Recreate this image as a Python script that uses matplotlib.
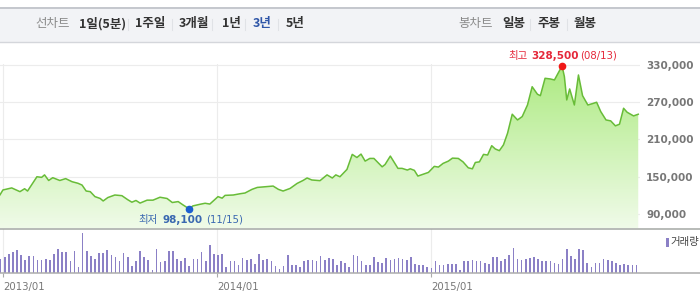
import matplotlib
matplotlib.use("Agg")
import matplotlib.pyplot as plt
import matplotlib.dates as mdates
import numpy as np
import pandas as pd
from matplotlib.colors import LinearSegmentedColormap
from matplotlib.patches import PathPatch, Rectangle
from matplotlib.lines import Line2D

CJK = ['Noto Sans CJK KR', 'DejaVu Sans']
plt.rcParams['font.family'] = CJK

# price line (weekly-ish points)
price_dates = [
    '2012-12-27', '2013-01-01', '2013-01-16', '2013-01-30', '2013-02-07', '2013-02-12', '2013-02-28',
    '2013-03-08', '2013-03-13', '2013-03-20', '2013-03-27', '2013-04-08', '2013-04-18', '2013-04-29',
    '2013-05-09', '2013-05-16', '2013-05-23', '2013-05-30', '2013-06-07', '2013-06-16', '2013-06-21',
    '2013-06-29', '2013-07-11', '2013-07-23', '2013-08-02', '2013-08-09', '2013-08-16', '2013-08-23',
    '2013-09-04', '2013-09-14', '2013-09-26', '2013-10-08', '2013-10-17', '2013-10-27', '2013-11-04',
    '2013-11-15', '2013-11-21', '2013-12-03', '2013-12-12', '2013-12-20', '2013-12-29', '2014-01-03',
    '2014-01-10', '2014-01-15', '2014-01-29', '2014-02-10', '2014-02-18', '2014-03-02', '2014-03-11',
    '2014-04-07', '2014-04-16', '2014-04-24', '2014-05-06', '2014-05-18', '2014-05-28', '2014-06-04',
    '2014-06-12', '2014-06-26', '2014-07-08', '2014-07-17', '2014-07-23', '2014-07-30', '2014-08-11',
    '2014-08-20', '2014-08-28', '2014-09-04', '2014-09-11', '2014-09-19', '2014-09-26', '2014-10-10',
    '2014-10-15', '2014-10-24', '2014-11-06', '2014-11-13', '2014-11-22', '2014-11-27', '2014-12-04',
    '2014-12-10', '2014-12-28', '2015-01-07', '2015-01-14', '2015-01-22', '2015-01-31', '2015-02-07',
    '2015-02-17', '2015-02-25', '2015-03-06', '2015-03-13', '2015-03-18', '2015-03-25', '2015-04-01',
    '2015-04-08', '2015-04-15', '2015-04-21', '2015-04-28', '2015-05-05', '2015-05-12', '2015-05-20',
    '2015-05-29', '2015-06-06', '2015-06-15', '2015-06-23', '2015-07-02', '2015-07-07', '2015-07-15',
    '2015-07-24', '2015-07-31', '2015-08-13', '2015-08-17', '2015-08-21', '2015-08-26', '2015-09-03',
    '2015-09-10', '2015-09-17', '2015-09-26', '2015-10-04', '2015-10-11', '2015-10-18', '2015-10-27',
    '2015-11-04', '2015-11-12', '2015-11-19', '2015-11-26', '2015-12-02', '2015-12-13', '2015-12-21',
]
price = [
    120900, 128700, 132000, 126000, 130700, 127000, 150000, 149000, 153000, 144000, 148500, 144000,
    147000, 142000, 139500, 136600, 127000, 126000, 118000, 115000, 111000, 116500, 120600, 119500,
    113000, 109000, 111800, 107600, 112300, 112300, 117000, 115000, 108500, 110000, 104800, 98100,
    103000, 105600, 107300, 106000, 113700, 118000, 115500, 120000, 120600, 122700, 123800, 129700,
    132800, 135000, 129700, 127000, 131200, 139300, 144000, 148000, 144800, 143700, 153000, 148000,
    153000, 150000, 161800, 186000, 181000, 186500, 175200, 179500, 179500, 166000, 169700, 183300,
    163500, 163500, 160800, 162800, 160300, 151100, 157000, 166700, 165600, 171500, 175200, 180000,
    179500, 174000, 164400, 162800, 173000, 174000, 186000, 185000, 200000, 194800, 192000, 201300,
    220100, 250700, 241500, 246900, 265600, 295000, 282900, 280600, 308600, 307500, 305900, 328500,
    311200, 273700, 291400, 265600, 313900, 280600, 265600, 267800, 270000, 255000, 241500, 240000,
    232000, 234600, 260300, 253900, 248000, 250700,
]

# weekly volume (relative bar heights)
volume = [
    14, 16, 19, 21, 23, 18, 13, 17, 17, 13, 13, 14, 13, 19, 24, 21, 21, 12, 22, 6,
    40, 22, 17, 14, 20, 20, 23, 18, 16, 12, 20, 16, 7, 12, 22, 16, 13, 3, 24, 11,
    12, 22, 22, 14, 12, 15, 7, 14, 14, 21, 12, 28, 19, 18, 19, 6, 12, 12, 8, 15,
    13, 14, 9, 19, 13, 14, 12, 7, 4, 7, 18, 8, 8, 6, 12, 13, 13, 12, 17,
    13, 15, 14, 8, 12, 10, 6,
    18, 17, 12, 8, 8, 16, 11, 10, 15, 13, 14, 15, 14, 13, 16, 9, 8, 8, 6, 5,
    12, 8, 8, 9, 9, 9, 3, 12, 12, 13, 12, 12, 10, 9, 16, 16, 12, 14, 18, 25,
    14, 13, 14, 15, 16, 14, 12, 12, 12, 10, 9, 14, 24, 17, 14, 24, 23, 10, 6, 10,
    10, 14, 13, 12, 10, 8, 9, 8, 8, 8,
]
vol_start = '2012-12-28'

y_ticks = [90000, 150000, 210000, 270000, 330000]
year_ticks = ['2013-01-01', '2014-01-01', '2015-01-01']
year_labels = ['2013/01', '2014/01', '2015/01']

low_date, low_val, low_label = '2013-11-15', 98100, '(11/15)'
high_date, high_val, high_label = '2015-08-13', 328500, '(08/13)'

left_menu = ['선차트', '1일(5분)', '1주일', '3개월', '1년', '3년', '5년']
left_menu_x = [35, 79, 135, 179, 222, 253, 286]
right_menu = ['봉차트', '일봉', '주봉', '월봉']
right_menu_x = [458, 502, 537, 574]

W, H = 700, 305
fig = plt.figure(figsize=(W / 100, H / 100), dpi=100)


def px_rect(x0, y0, x1, y1):
    return [x0 / W, 1 - y1 / H, (x1 - x0) / W, (y1 - y0) / H]


def fy(y):
    return 1 - y / H


# header bar
fig.patches.append(Rectangle((0, fy(42)), 1, 35 / H, transform=fig.transFigure,
                             facecolor='#f2f3f6', edgecolor='none', zorder=0))
fig.add_artist(Line2D([0, 1], [fy(7.5), fy(7.5)], color='#c4c7cd', lw=1.4))
fig.add_artist(Line2D([0, 1], [fy(42), fy(42)], color='#d4d6db', lw=1.0))
for i, (t, x) in enumerate(zip(left_menu, left_menu_x)):
    if i == 0:
        fig.text(x / W, fy(24), t, color='#8a8a8a', fontsize=9, va='center', family=CJK)
    else:
        c = '#2f56a8' if t == '3년' else '#333333'
        fig.text(x / W, fy(24), t, color=c, fontsize=9, weight='bold', va='center', family=CJK)
for i, (t, x) in enumerate(zip(right_menu, right_menu_x)):
    if i == 0:
        fig.text(x / W, fy(24), t, color='#8a8a8a', fontsize=9, va='center', family=CJK)
    else:
        fig.text(x / W, fy(24), t, color='#333333', fontsize=9, weight='bold', va='center', family=CJK)
for sx in [128, 172, 212, 245, 278, 530, 567]:
    fig.add_artist(Line2D([sx / W, sx / W], [fy(19), fy(30)], color='#e0e2e6', lw=0.8))

pdates = pd.to_datetime(price_dates)
x_lo = mdates.date2num(pd.Timestamp('2012-12-27'))
x_hi = mdates.date2num(pd.Timestamp('2015-12-24'))
y_lo, y_hi = 67450, 331600

# price panel
ax = fig.add_axes(px_rect(0, 64, 640, 228))
poly = ax.fill_between(pdates, price, y_lo, color='none')
clip = PathPatch(poly.get_paths()[0], transform=ax.transData, facecolor='none', edgecolor='none')
ax.add_patch(clip)
cmap = LinearSegmentedColormap.from_list('g', ['#f0fbe9', '#acea80'])
grad = np.linspace(0, 1, 256).reshape(-1, 1)
im = ax.imshow(grad, extent=[x_lo, x_hi, y_lo, y_hi], origin='lower', aspect='auto',
               cmap=cmap, zorder=1)
im.set_clip_path(clip)
ax.plot(pdates, price, color='#68bc38', lw=1.1, zorder=3)

ax.set_xlim(x_lo, x_hi)
ax.set_ylim(y_lo, y_hi)
ax.set_yticks(y_ticks)
ax.set_yticklabels([f'{v:,}' for v in y_ticks], family='DejaVu Sans', weight='bold',
                   fontsize=7.5, color='#777777')
ax.yaxis.tick_right()
ax.set_xticks(pd.to_datetime(year_ticks))
ax.set_xticklabels([])
ax.tick_params(length=0, pad=4.5)
ax.grid(True, color='#ececec', lw=0.8, zorder=0)
ax.set_axisbelow(True)
for s in ax.spines.values():
    s.set_visible(False)

# min / max markers
ld = pd.Timestamp(low_date)
hd = pd.Timestamp(high_date)
ax.plot(ld, low_val, 'o', ms=4.5, color='#1b5fd0', zorder=5, clip_on=False)
ax.plot(hd, high_val, 'o', ms=4.5, color='#f01818', zorder=5, clip_on=False)

blue = '#3a68b0'
red = '#e5283a'
kw = dict(xycoords='data', textcoords='offset pixels', va='center', ha='left', annotation_clip=False)
ax.annotate('최저', (ld, low_val), xytext=(-51, -11), color=blue, fontsize=7.5, family=CJK, **kw)
ax.annotate(f'{low_val:,}', (ld, low_val), xytext=(-27, -11), color=blue, fontsize=7.5,
            family='DejaVu Sans', weight='bold', **kw)
ax.annotate(low_label, (ld, low_val), xytext=(17, -11), color=blue, fontsize=7.3,
            family='DejaVu Sans', **kw)
ax.annotate('최고', (hd, high_val), xytext=(-54, 10), color=red, fontsize=7.5, family=CJK, **kw)
ax.annotate(f'{high_val:,}', (hd, high_val), xytext=(-31, 10), color=red, fontsize=7.5,
            family='DejaVu Sans', weight='bold', **kw)
ax.annotate(high_label, (hd, high_val), xytext=(18, 10), color=red, fontsize=7.3,
            family='DejaVu Sans', **kw)

# volume panel
vdates = pd.date_range(vol_start, periods=len(volume), freq='7D')
vax = fig.add_axes(px_rect(0, 229, 640, 273))
vax.bar(vdates, volume, width=2.8, color='#8b80c6', linewidth=0, antialiased=False, zorder=2)
vax.set_xlim(x_lo, x_hi)
vax.set_ylim(0, 44)
vax.set_yticks([])
vax.set_xticks(pd.to_datetime(year_ticks))
vax.set_xticklabels(year_labels, ha='left', family='DejaVu Sans', fontsize=7.3, color='#777777')
vax.tick_params(axis='x', length=3, width=0.8, color='#aaaaaa', pad=3.5)
vax.grid(True, axis='x', color='#ececec', lw=0.8, zorder=0)
vax.set_axisbelow(True)
for s in vax.spines.values():
    s.set_visible(False)

fig.add_artist(Line2D([0, 1], [fy(228.5), fy(228.5)], color='#a4a8a4', lw=1.1))
fig.add_artist(Line2D([0, 1], [fy(273), fy(273)], color='#acacac', lw=1.1))

# volume legend
fig.patches.append(Rectangle((666 / W, fy(247)), 2.5 / W, 9 / H, transform=fig.transFigure,
                             facecolor='#8b80c6', edgecolor='none'))
fig.text(670 / W, fy(242.5), '거래량', fontsize=7.5, color='#444444', va='center', family=CJK)

fig.savefig('out.png', dpi=100)
